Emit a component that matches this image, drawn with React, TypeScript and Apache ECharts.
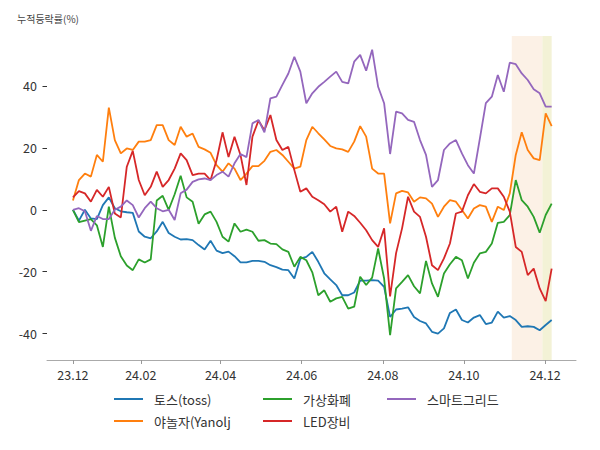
import React, { useEffect, useRef } from "react";
import * as echarts from "echarts";

const seriesNames = ["토스(toss)", "야놀자(Yanolj", "가상화폐", "LED장비", "스마트그리드"];
const seriesColors = ["#1f77b4", "#ff7f0e", "#2ca02c", "#d62728", "#9467bd"];

const startDate = "2023-12-12";
const stepDays = 4.5;

const toss = [
  0, -3.5, 0, -2.8, -3, 1.5, 4, 0.5, -0.5, -0.8, -1, -7, -8.7, -9.2, -7, -3.9, -7.5, -8.7, -9.6, -9.5, -9.8,
  -11.4, -12.8, -10, -13.2, -14, -13.5, -15, -17, -17, -16.5, -16.5, -16.8, -17.9, -18.5, -19.3, -19.5, -22.2, -15.8, -15.2, -13.6,
  -16.8, -20.5, -22.5, -24.3, -27.6, -27.6, -26.7, -22.9, -22.9, -22.7, -22.9, -24.9, -34.6, -32.2, -31.9, -31.5, -34.6, -35.9, -36.7, -39.4,
  -40, -38.3, -33.3, -32.2, -35.6, -36.4, -34.8, -34, -36.9, -36.4, -32.9, -34.8, -34.3, -35.6, -37.8, -37.6, -37.8, -38.9, -37.2, -35.6,
];
const yanolja = [
  3, 9.6, 11.7, 10.7, 17.7, 15.5, 33, 22.5, 18.2, 19.8, 19.3, 22, 22, 22.5, 27.3, 27.3, 22.5, 20.9, 26.8, 23.6, 24.6,
  20.3, 19.5, 18.4, 14.4, 12.3, 15, 13.3, 9.6, 11.7, 14.1, 14.1, 15.8, 18.7, 19.3, 17.7, 15.5, 13.3, 13.9, 22.5, 26.8,
  24.7, 22.7, 20.6, 19.8, 19.5, 18.7, 22, 27, 23.6, 13.3, 11.7, 11.7, -4.4, 5.3, 6.1, 5.6, 2.6, 4, 3.7, 2,
  -2.3, 1, 3.1, 2.6, -0.1, -2.8, 0.4, 1.5, 1, -3.9, 1, -0.1, 5.3, 17.7, 25, 19.3, 16.6, 16, 31.1, 27,
];
const crypto = [
  0, -4, -3.5, -3, -5, -12, 1, -9, -15, -18, -19.5, -16, -17, -16, 3, 4.5, 0, 5, 11, 4, 2.6,
  -4.5, -1.5, -0.6, -3.9, -8.7, -10.3, -4.4, -7.1, -6.4, -7.1, -10, -9.8, -10.9, -11.1, -12.8, -13.6, -18.4, -15.2, -16.3, -20.2,
  -27.6, -26, -29.7, -28.6, -28.1, -31.9, -31.3, -21.6, -24.3, -21.9, -12.5, -22.2, -40.5, -25.4, -23.3, -21.1, -24.7, -27, -16.5, -23.8,
  -28.1, -20.6, -17.6, -15.2, -16.3, -22.2, -17.1, -14.1, -13.6, -10.9, -4.2, -3.9, -1.7, 9.6, 3.1, 1, -2.3, -7.4, -1.7, 2,
];
const led = [
  4, 6, 5.3, 2.6, 6.4, 4.2, 7.4, -1.2, -2.5, 13.9, 19, 9.6, 4.7, 7.4, 12.3, 7.4, 9.6, 13.3, 18.2, 16, 11.2,
  11.7, 11.7, 9.6, 16, 25, 17, 23.6, 17.7, 8, 23.6, 28.8, 25.7, 30.6, 22.5, 19.3, 20.3, 12.8, 5.8, 6.9, 4.2,
  3.1, 1.8, -0.6, 1, -7.1, -0.6, -2, -4.2, -6.6, -9.8, -12, -6, -28, -14, -6, 4.2, -0.6, -2.3, -8.7, -17.9,
  -19.5, -15.7, -10.9, -1.2, -0.6, 4.7, 8.3, 5.8, 5.3, 6.9, 6.9, 4.2, -0.6, -12, -13.6, -21.1, -19, -25.4, -29.5, -19,
];
const smartgrid = [
  0, 0.5, -0.5, -6.8, -2, -3, -3, 0, 1, 3, 1.5, -2.5, 0.5, 2.6, 0.5, -0.5, 0, -3.3, 5.3, 6.5, 9,
  9.8, 10.1, 9.6, 11.2, 12.3, 10.7, 15, 18, 17, 27.9, 29, 25, 36, 36.5, 40.3, 44, 49.4, 44.6, 34.4, 37.6,
  39.7, 41.3, 43, 44.6, 41.3, 40.8, 47.8, 50, 44.9, 51.7, 39.7, 34.4, 18, 31.7, 31.1, 29, 28.4, 22.5, 17.7, 7.4,
  9.6, 19.3, 21.4, 22.5, 18.2, 14.4, 11.7, 23, 34.4, 36.5, 43.5, 38.1, 47.5, 47, 44, 41.9, 38.9, 37.6, 33.3, 33.3,
];
const allValues = [toss, yanolja, crypto, led, smartgrid];

const tickDates = ["2023-12-12", "2024-02-01", "2024-04-01", "2024-06-01", "2024-08-01", "2024-10-01", "2024-12-01"];
const tickLabels = ["23.12", "24.02", "24.04", "24.06", "24.08", "24.10", "24.12"];
const yTicks = [-40, -20, 0, 20, 40];

const band1 = ["2024-11-06", "2024-11-29"];
const band2 = ["2024-11-29", "2024-12-06"];

const DAY = 86400000;
const ts = (s: string) => {
  const [y, m, d] = s.split("-").map(Number);
  return Date.UTC(y, m - 1, d);
};
// day numbers are counted from an origin well before the data so the x range never holds 0
const ORIGIN = 1000;

export default function App() {
  const ref = useRef<HTMLDivElement>(null);
  useEffect(() => {
    document.body.style.margin = "0";
    if (!ref.current) return;
    const chart = echarts.init(ref.current, undefined, { renderer: "svg" });
    const start = ts(startDate);
    const dayOf = (s: string) => ORIGIN + Math.round((ts(s) - start) / DAY);
    const xs = toss.map((_, i) => ORIGIN + i * stepDays);
    const tickDays = tickDates.map(dayOf);
    const font = "'Noto Sans CJK KR', 'Noto Sans', sans-serif";

    const lineSeries = allValues.map((vals, k) => ({
      name: seriesNames[k],
      type: "line",
      showSymbol: false,
      symbol: "none",
      z: 3,
      lineStyle: { width: 1.8, color: seriesColors[k] },
      itemStyle: { color: seriesColors[k] },
      data: vals.map((v, i) => [xs[i], v]),
    }));

    const legendBase = {
      orient: "vertical",
      top: 391,
      icon: "rect",
      itemWidth: 29,
      itemHeight: 2,
      itemGap: 6,
      padding: 0,
      textStyle: { fontSize: 13, color: "#333", fontFamily: font, lineHeight: 16, padding: [0, 0, 0, 6] },
    };

    chart.setOption({
      animation: false,
      title: {
        text: "누적등락률(%)",
        left: 12,
        top: 8,
        textStyle: { fontSize: 10, color: "#444", fontWeight: "normal", fontFamily: font },
      },
      grid: { left: 47, right: 24, top: 36, bottom: 90 },
      legend: [
        { ...legendBase, left: 114, data: [seriesNames[0], seriesNames[1]] },
        { ...legendBase, left: 263, data: [seriesNames[2], seriesNames[3]] },
        { ...legendBase, left: 387, data: [seriesNames[4]] },
      ],
      xAxis: {
        type: "value",
        min: ORIGIN - 19.5,
        max: ORIGIN + 378.3,
        splitLine: { show: false },
        axisLine: { show: true, onZero: false, lineStyle: { color: "#aaaaaa", width: 1 } },
        axisTick: { show: true, customValues: tickDays, length: 4, lineStyle: { color: "#999999" } },
        axisLabel: {
          customValues: tickDays,
          margin: 8,
          fontSize: 12.5,
          color: "#333",
          fontFamily: font,
          formatter: (v: number) => {
            const idx = tickDays.findIndex((t) => Math.abs(t - v) < 0.5);
            return idx >= 0 ? tickLabels[idx] : "";
          },
        },
      },
      yAxis: {
        type: "value",
        min: -48.5,
        max: 56.1,
        splitLine: { show: false },
        axisLine: { show: true, onZero: false, lineStyle: { color: "rgba(0,0,0,0)", width: 1 } },
        axisTick: { show: true, customValues: yTicks, length: 4.5, lineStyle: { color: "#333", width: 1 } },
        axisLabel: { customValues: yTicks, margin: 10, fontSize: 12.5, color: "#333", fontFamily: font },
      },
      series: [
        {
          name: "bands",
          type: "line",
          data: [],
          z: 1,
          silent: true,
          markArea: {
            silent: true,
            data: [
              [{ xAxis: dayOf(band1[0]), itemStyle: { color: "#fcf1e6" } }, { xAxis: dayOf(band1[1]) }],
              [{ xAxis: dayOf(band2[0]), itemStyle: { color: "#f3f2d6" } }, { xAxis: dayOf(band2[1]) }],
            ],
          },
        },
        ...lineSeries,
      ],
    });
    return () => chart.dispose();
  }, []);
  return <div ref={ref} style={{ width: 600, height: 450 }} />;
}
